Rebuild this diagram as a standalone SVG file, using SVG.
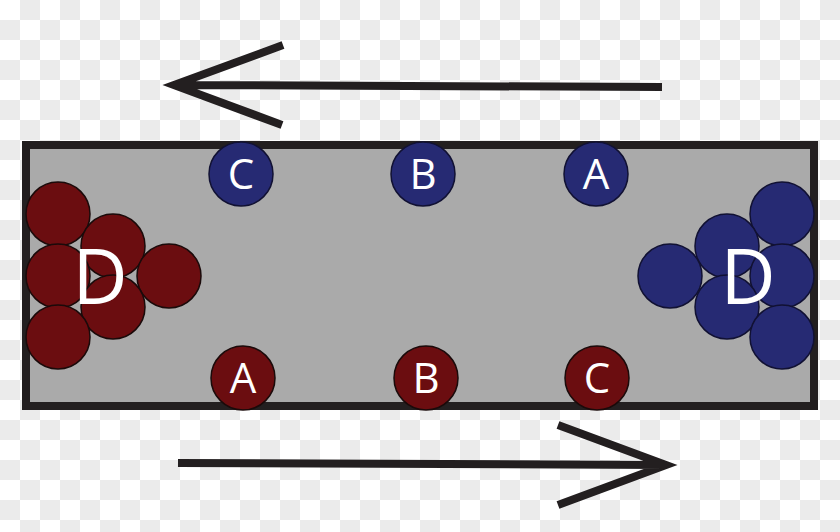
<svg xmlns="http://www.w3.org/2000/svg" width="840" height="532" viewBox="0 0 840 532">
<defs>
<pattern id="chk" width="40" height="40" patternUnits="userSpaceOnUse">
<rect width="40" height="40" fill="#ffffff"/>
<rect x="0" y="20" width="20" height="20" fill="#ebebeb"/>
<rect x="20" y="0" width="20" height="20" fill="#ebebeb"/>
</pattern>
<style>
.r{fill:#6b0d10;stroke:#1a0a0a;stroke-width:1.5}
.b{fill:#262a73;stroke:#111133;stroke-width:1.5}
.t{fill:#fff;font-family:"Open Sans","DejaVu Sans",sans-serif;text-anchor:middle}
.s{font-size:42px}
.d{font-size:76px}
.ar{stroke:#231f20;stroke-width:8;fill:none;stroke-linecap:butt}
</style>
</defs>
<rect width="840" height="532" fill="url(#chk)"/>
<g id="box"><rect x="26" y="145" width="788" height="261" fill="#aaaaaa" stroke="#231f20" stroke-width="8"/></g>
<g id="redD">
<circle class="r" cx="58" cy="214" r="32"/><circle class="r" cx="113" cy="246" r="32"/><circle class="r" cx="58" cy="276" r="32"/>
<circle class="r" cx="169" cy="276" r="32"/><circle class="r" cx="113" cy="307" r="32"/><circle class="r" cx="58" cy="337" r="32"/>
<text class="t d" x="100" y="304">D</text>
</g>
<g id="blueD">
<circle class="b" cx="782" cy="214" r="32"/><circle class="b" cx="727" cy="246" r="32"/><circle class="b" cx="670" cy="276" r="32"/>
<circle class="b" cx="782" cy="276" r="32"/><circle class="b" cx="727" cy="307" r="32"/><circle class="b" cx="782" cy="337" r="32"/>
<text class="t d" x="748" y="304">D</text>
</g>
<g id="blueC"><circle class="b" cx="241" cy="174" r="32"/><text class="t s" x="241" y="189">C</text></g>
<g id="blueB"><circle class="b" cx="423" cy="174" r="32"/><text class="t s" x="423" y="189">B</text></g>
<g id="blueA"><circle class="b" cx="596" cy="174" r="32"/><text class="t s" x="596" y="189">A</text></g>
<g id="redA"><circle class="r" cx="243" cy="378" r="32"/><text class="t s" x="243" y="393">A</text></g>
<g id="redB"><circle class="r" cx="426" cy="378" r="32"/><text class="t s" x="426" y="393">B</text></g>
<g id="redC"><circle class="r" cx="597" cy="378" r="32"/><text class="t s" x="597" y="393">C</text></g>
<g id="connectors">
<path class="ar" d="M662 87 L174 85 M283 45 L174 85 L282 125"/>
<path class="ar" d="M178 463 L666 465 M558 425 L666 465 L558 505"/>
</g>
</svg>
